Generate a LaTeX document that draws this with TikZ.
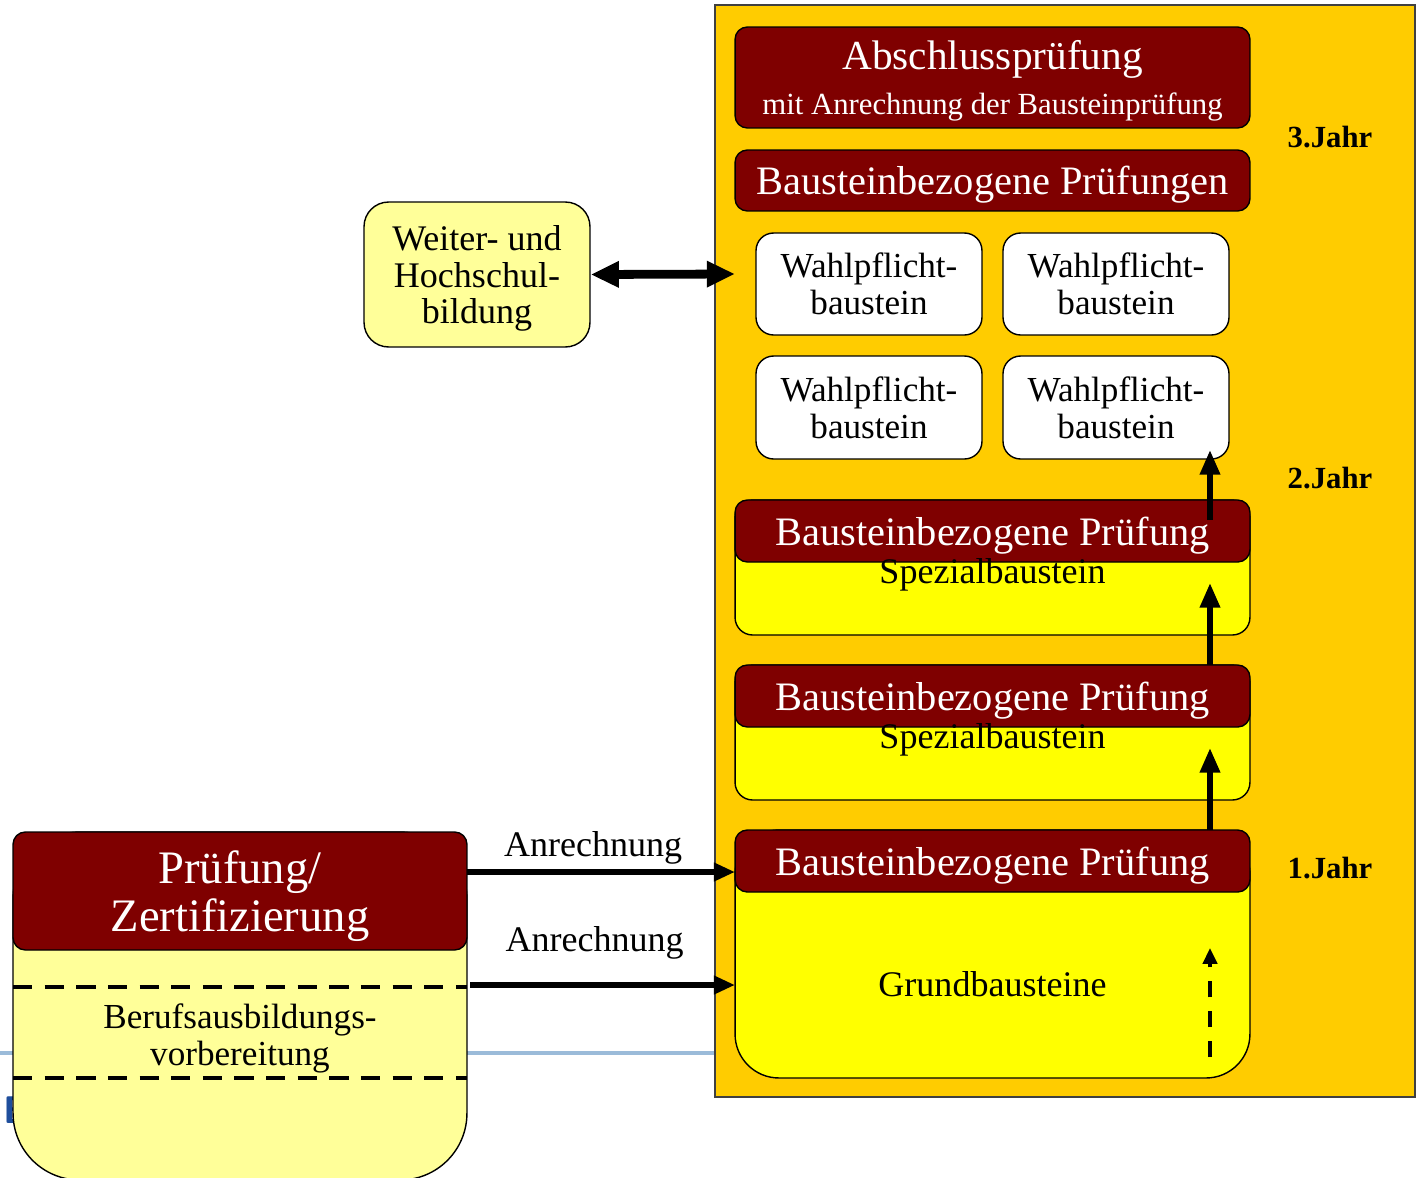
\documentclass[tikz,border=0pt]{standalone}
\usepackage{fontspec}
\setmainfont{Liberation Serif}
\usetikzlibrary{arrows.meta,positioning}

\definecolor{jahrorange}{HTML}{FFCC00}
\definecolor{dunkelrot}{HTML}{7F0000}
\definecolor{grundgelb}{HTML}{FFFF00}
\definecolor{hellgelb}{HTML}{FFFF99}
\definecolor{linienblau}{HTML}{9BBBD9}
\definecolor{folienblau}{HTML}{1F4E9C}

\begin{document}
\begin{tikzpicture}[
    x=0.02cm, y=-0.02cm,
    rahmen/.style={rectangle, draw=black!75, fill=jahrorange, line width=0.8pt, minimum width=14cm, minimum height=21.84cm},
    kopf/.style={rectangle, draw, fill=dunkelrot, line width=0.8pt, rounded corners=7pt, text=white, minimum width=10.3cm, minimum height=1.24cm, inner sep=0pt, text depth=0pt, align=center, font=\fontsize{23}{24}\selectfont},
    koerper/.style={rectangle, draw, fill=grundgelb, line width=0.8pt, rounded corners=10pt, minimum width=10.3cm, minimum height=2.7cm},
    wahl/.style={rectangle, draw, fill=white, line width=0.8pt, rounded corners=10pt, minimum width=4.52cm, minimum height=2.04cm, inner sep=0pt, text depth=0pt, align=center, font=\fontsize{20}{21}\selectfont},
    jahr/.style={font=\fontsize{17.5}{19}\selectfont\bfseries},
    schrift/.style={font=\fontsize{20.5}{21}\selectfont, align=center, inner sep=0pt},
    trenn/.style={dash pattern=on 11pt off 7pt, line width=2.4pt},
    pfeil/.style={-{Triangle[length=14pt,width=11pt]}, line width=3.2pt},
    quer/.style={-{Triangle[length=12pt,width=10pt]}, line width=3.2pt}
]
\useasboundingbox (0,0) rectangle (1417,1177);

% Hintergrund
\draw[linienblau, line width=2.8pt] (0,1053) -- (715,1053);
\node[text=folienblau, font=\sffamily\bfseries\fontsize{22}{24}\selectfont, anchor=west, inner sep=0pt] (folie) at (3,1110) {E};

% Jahresrahmen
\node[rahmen] (rahmen) at (1065,551) {};

% 3. Jahr
\node[kopf, minimum height=2.02cm, font=\fontsize{23.5}{24}\selectfont] (abschluss) at (992.5,77.5) {Abschlussprüfung\\[2pt]{\fontsize{17.5}{24}\selectfont mit Anrechnung der Bausteinprüfung}};
\node[kopf, minimum height=1.22cm] (pruefungen) at (992.5,180.5) {Bausteinbezogene Prüfungen};

% Wahlpflichtbausteine
\node[wahl] (wahl1) at (869,284) {Wahlpflicht-\\baustein};
\node[wahl] (wahl2) at (1116,284) {Wahlpflicht-\\baustein};
\node[wahl, minimum height=2.06cm] (wahl3) at (869,407.5) {Wahlpflicht-\\baustein};
\node[wahl, minimum height=2.06cm] (wahl4) at (1116,407.5) {Wahlpflicht-\\baustein};

% 2. Jahr
\node[koerper] (spezial1) at (992.5,567.5) {};
\node[kopf] (kopf1) at (992.5,531) {Bausteinbezogene Prüfung};
\node[schrift] (text1) at (992.5,575) {Spezialbaustein};

\node[koerper] (spezial2) at (992.5,732.5) {};
\node[kopf] (kopf2) at (992.5,696) {Bausteinbezogene Prüfung};
\node[schrift] (text2) at (992.5,740) {Spezialbaustein};

% 1. Jahr
\node[koerper, minimum height=4.96cm, rounded corners=25pt] (grund) at (992.5,954) {};
\node[kopf] (kopf3) at (992.5,861) {Bausteinbezogene Prüfung};
\node[schrift] (text3) at (992.5,984) {Grundbausteine};

% Jahre
\node[jahr] (jahr3) at (1330,137) {3.Jahr};
\node[jahr] (jahr2) at (1330,478) {2.Jahr};
\node[jahr] (jahr1) at (1330,868) {1.Jahr};

% Weiter- und Hochschulbildung
\node[rectangle, draw, fill=hellgelb, line width=0.8pt, rounded corners=14pt, minimum width=4.52cm, minimum height=2.9cm, schrift, text depth=0pt] (weiter) at (477,274.5) {Weiter- und\\Hochschul-\\bildung};

% Pruefung / Zertifizierung
\node[rectangle, draw, fill=hellgelb, line width=0.8pt, rounded corners=38pt, minimum width=9.08cm, minimum height=6.96cm] (links) at (240,1006) {};
\node[kopf, minimum width=9.08cm, minimum height=2.36cm, font=\fontsize{26.5}{27.5}\selectfont] (zert) at (240,891) {Prüfung/\\Zertifizierung};
\draw[trenn] (13,987) -- (467,987);
\draw[trenn] (13,1078) -- (467,1078);
\node[schrift, font=\fontsize{20}{21}\selectfont] (berufs) at (240,1038) {Berufsausbildungs-\\vorbereitung};

% Verbindungen
\coordinate (andock) at (735,274);
\coordinate (zertaus) at (467,872);
\coordinate (grundein) at (735,872);
\coordinate (berufsaus) at (470,985);
\coordinate (grundmitte) at (735,985);
\draw[{Triangle[length=16pt,width=14pt]}-{Triangle[length=16pt,width=14pt]}, line width=5pt] (weiter.east) -- (andock);
\draw[quer] (zertaus) -- node[above=3pt, xshift=-4.5pt, schrift] (anr1) {Anrechnung} (grundein);
\draw[quer] (berufsaus) -- node[above=13pt, xshift=-4.5pt, schrift] (anr2) {Anrechnung} (grundmitte);

% Aufstieg
\coordinate (start3) at (1210,830);
\coordinate (ziel2) at (1210,748);
\coordinate (start2) at (1210,665);
\coordinate (ziel1) at (1210,583);
\coordinate (start1) at (1210,520);
\coordinate (ziel0) at (1210,450);
\coordinate (grundunten) at (1210,1057);
\coordinate (grundoben) at (1210,948);
\draw[pfeil] (start3) -- (ziel2);
\draw[pfeil] (start2) -- (ziel1);
\draw[pfeil] (start1) -- (ziel0);
\draw[-{Triangle[length=9pt,width=8pt]}, line width=2.2pt, dash pattern=on 9pt off 8pt] (grundunten) -- (grundoben);

\end{tikzpicture}
\end{document}
